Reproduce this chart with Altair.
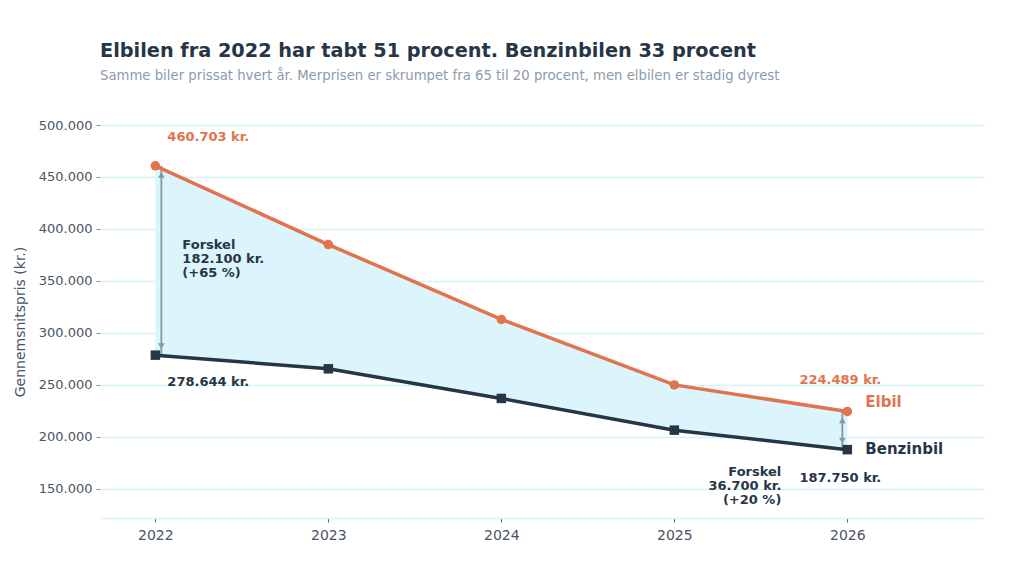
import altair as alt
import pandas as pd

# values
years = [2022, 2023, 2024, 2025, 2026]
elbil = [460703, 385000, 313000, 250000, 224489]
benzin = [278644, 265500, 237000, 206500, 187750]
y_ticks = [150000, 200000, 250000, 300000, 350000, 400000, 450000, 500000]
gap_text_first = "Forskel\n182.100 kr.\n(+65 %)"
gap_text_last = "Forskel\n36.700 kr.\n(+20 %)"

ORANGE = "#e2734f"
DARK = "#263646"
GREY = "#8797a6"
GRID = "#d2f1fa"
FONT = "DejaVu Sans"

df = pd.DataFrame({"year": years, "elbil": elbil, "benzin": benzin})
first = df[df.year == years[0]]
last = df[df.year == years[-1]]

x_scale = alt.Scale(domain=[2021.68, 2026.79], nice=False, zero=False)
y_scale = alt.Scale(domain=[122000, 500000], nice=False, zero=False)

x_enc = alt.X("year:Q", scale=x_scale, title=None,
              axis=alt.Axis(values=years, format="d", grid=False,
                            domainColor=GRID, domainWidth=1.5,
                            tickColor="#556270", tickSize=4, labelPadding=6,
                            labelFontSize=14, labelColor="#4a5565"))

base = alt.Chart(df)

band = base.mark_area(color="#dcf4fc").encode(
    x=x_enc,
    y=alt.Y("elbil:Q", scale=y_scale, title="Gennemsnitspris (kr.)",
            axis=alt.Axis(values=y_ticks,
                          labelExpr="replace(format(datum.value, ','), ',', '.')",
                          grid=True, gridColor=GRID, gridWidth=1.3, domain=False,
                          tickColor="#8797a6", tickSize=4, labelPadding=4,
                          labelFontSize=13, labelColor="#4a5565",
                          titleFontSize=14, titleFontWeight="normal",
                          titleColor="#4a5565", titlePadding=11)),
    y2="benzin:Q",
)


def arrow(rows, shift):
    rule = alt.Chart(rows).mark_rule(color=GREY, strokeWidth=1.8).encode(
        x="year:Q", y="elbil:Q", y2="benzin:Q", xOffset=alt.value(shift))
    up = alt.Chart(rows).mark_point(shape="triangle-up", filled=True, color=GREY,
                                    size=45, opacity=1).encode(
        x="year:Q", y="elbil:Q", xOffset=alt.value(shift), yOffset=alt.value(9))
    down = alt.Chart(rows).mark_point(shape="triangle-down", filled=True, color=GREY,
                                      size=45, opacity=1).encode(
        x="year:Q", y="benzin:Q", xOffset=alt.value(shift), yOffset=alt.value(-9))
    return rule + up + down


el_line = base.mark_line(color=ORANGE, strokeWidth=3.5).encode(x="year:Q", y="elbil:Q")
el_pts = base.mark_point(shape="circle", filled=True, color=ORANGE, size=90,
                         opacity=1).encode(x="year:Q", y="elbil:Q")
bz_line = base.mark_line(color=DARK, strokeWidth=3.5).encode(x="year:Q", y="benzin:Q")
bz_pts = base.mark_point(shape="square", filled=True, color=DARK, size=90,
                         opacity=1).encode(x="year:Q", y="benzin:Q")


def label(rows, field, text, color, dx, dy, align="left", size=13):
    return alt.Chart(rows).mark_text(
        text=text, color=color, font=FONT, fontWeight="bold", fontSize=size,
        align=align, baseline="middle", dx=dx, dy=dy, lineBreak="\n",
        lineHeight=14,
    ).encode(x="year:Q", y=f"{field}:Q")


def kr(v):
    return f"{v:,}".replace(",", ".") + " kr."


mid_first = first.assign(mid=(first.elbil + first.benzin) / 2)
mid_last = last.assign(mid=(last.elbil + last.benzin) / 2)

labels = [
    label(first, "elbil", kr(elbil[0]), ORANGE, 12, -29),
    label(first, "benzin", kr(benzin[0]), DARK, 12, 27),
    label(last, "elbil", kr(elbil[-1]), ORANGE, -7, -31, align="center"),
    label(last, "benzin", kr(benzin[-1]), DARK, -7, 28, align="center"),
    label(last, "elbil", "Elbil", ORANGE, 18, -9, size=15),
    label(last, "benzin", "Benzinbil", DARK, 18, -1, size=15),
    label(mid_first, "mid", gap_text_first, DARK, 27, -15),
    label(mid_last, "mid", gap_text_last, DARK, -66, 41, align="right"),
]

chart = alt.layer(
    band, arrow(first, 6), arrow(last, -5), el_line, bz_line, el_pts, bz_pts, *labels
).properties(
    width=884,
    height=393,
    autosize=alt.AutoSizeParams(type="none"),
    padding={"left": 92, "top": 117, "right": 32, "bottom": 47},
    title=alt.TitleParams(
        "Elbilen fra 2022 har tabt 51 procent. Benzinbilen 33 procent",
        subtitle="Samme biler prissat hvert år. Merprisen er skrumpet fra 65 til 20 procent, men elbilen er stadig dyrest",
        anchor="start", frame="group", font=FONT, fontSize=19.3, fontWeight="bold",
        color="#263646", subtitleFont=FONT, subtitleFontSize=13.25,
        subtitleColor="#8c9bab", subtitlePadding=8, offset=37,
    ),
).configure_view(stroke=None).configure_axis(
    labelFont=FONT, titleFont=FONT
).configure_axisY(gridColor=GRID)

chart.save("out.html", embed_options={"renderer": "svg", "actions": False})
